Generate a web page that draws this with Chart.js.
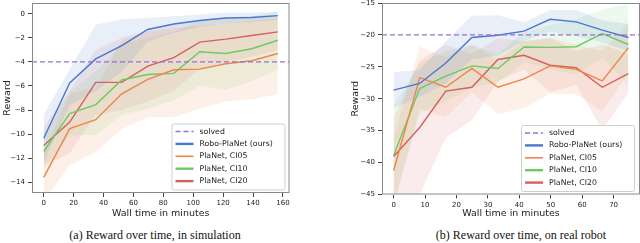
<!DOCTYPE html>
<html>
<head>
<meta charset="utf-8">
<script src="https://cdn.jsdelivr.net/npm/chart.js@4.4.0/dist/chart.umd.min.js"></script>
<style>
  body { margin: 0; background: #fff; width: 640px; height: 243px; overflow: hidden; position: relative; }
  .pane { position: absolute; top: 0; width: 320px; height: 222px; }
  .cap { position: absolute; top: 228px; font-family: "Liberation Serif", "Times New Roman", serif; font-size: 12px; color: #111; white-space: nowrap; transform: translateX(-50%); }
</style>
</head>
<body>
<div class="pane" style="left:0"><canvas id="simChart" width="320" height="222"></canvas></div>
<div class="pane" style="left:320px"><canvas id="robotChart" width="320" height="222"></canvas></div>
<div class="cap" style="left:155px">(a) Reward over time, in simulation</div>
<div class="cap" style="left:521px">(b) Reward over time, on real robot</div>
<script>
// series names
var seriesNames = ["Robo-PlaNet (ours)", "PlaNet, CI05", "PlaNet, CI10", "PlaNet, CI20"];

// (a) simulation
var simMinutes = [0, 17.4, 34.8, 52.2, 69.6, 87, 104.4, 121.8, 139.2, 156.6];
var simSolved = -4;
var simRobo   = [-10.35, -5.75, -3.75, -2.65, -1.3, -0.85, -0.55, -0.35, -0.3, -0.15];
var simRoboHi = [-8.4, -4.6, -0.9, -0.45, -0.35, -0.2, -0.05, 0.1, 0.1, 0.15];
var simRoboLo = [-12.3, -7.6, -6.4, -4.8, -2.3, -1.6, -1.1, -0.8, -0.7, -0.5];
var simCI05   = [-13.6, -9.55, -8.8, -6.65, -5.45, -4.65, -4.6, -4.15, -3.9, -3.3];
var simCI05Hi = [-11.6, -6.6, -6.2, -2.2, -1.5, -1.2, -1.0, -0.8, -0.6, -0.4];
var simCI05Lo = [-15.6, -12.6, -11.5, -9.6, -8.6, -8.6, -7.9, -7.3, -7.1, -6.7];
var simCI10   = [-11.45, -8.3, -7.55, -5.5, -5.05, -4.95, -3.15, -3.3, -2.9, -2.2];
var simCI10Hi = [-10.0, -6.5, -4.8, -2.5, -2.0, -1.5, -0.5, -0.3, -0.2, 0.2];
var simCI10Lo = [-12.9, -10.1, -10.1, -8.4, -7.9, -7.2, -6.0, -6.3, -5.6, -4.6];
var simCI20   = [-10.95, -9.0, -5.7, -5.7, -4.35, -3.65, -2.35, -2.1, -1.8, -1.5];
var simCI20Hi = [-9.4, -6.4, -3.0, -2.0, -1.4, -0.9, -0.5, -0.3, -0.2, -0.1];
var simCI20Lo = [-12.6, -11.6, -8.4, -8.0, -7.3, -6.4, -4.6, -4.0, -3.6, -3.0];

// (b) real robot
var robotMinutes = [0, 8.3, 16.6, 24.9, 33.2, 41.5, 49.8, 58.1, 66.4, 74.7];
var robotSolved = -20;
var robotRobo   = [-28.65, -27.6, -24.4, -20.4, -20.05, -19.4, -17.55, -17.95, -19.25, -20.4];
var robotRoboHi = [-25.8, -25.5, -21.0, -17.0, -16.9, -18.0, -16.1, -16.1, -17.7, -18.3];
var robotRoboLo = [-31.5, -29.7, -27.6, -23.8, -23.2, -21.0, -19.5, -20.2, -21.2, -22.5];
var robotCI05   = [-41.25, -26.7, -28.2, -25.25, -28.2, -26.9, -24.85, -25.4, -27.2, -22.0];
var robotCI05Hi = [-36, -21.8, -23.5, -21.5, -24.0, -21.0, -20.5, -21.5, -22.5, -18.0];
var robotCI05Lo = [-46.5, -31.6, -32.9, -29.0, -32.4, -31.5, -29.2, -29.3, -32.0, -26.0];
var robotCI10   = [-38.9, -28.4, -26.45, -24.85, -25.25, -21.9, -21.95, -21.85, -19.8, -21.5];
var robotCI10Hi = [-31, -24.5, -22.5, -21.5, -23.0, -19.5, -18.5, -17.5, -16.0, -15.2];
var robotCI10Lo = [-46.8, -32.3, -30.4, -28.2, -27.5, -24.3, -25.4, -26.2, -23.6, -27.8];
var robotCI20   = [-39.05, -34.5, -28.8, -28.2, -23.85, -23.2, -24.75, -25.15, -28.2, -26.05];
var robotCI20Hi = [-33, -24.0, -21.5, -23.0, -20.5, -21.0, -20.5, -22.5, -21.5, -23.0];
var robotCI20Lo = [-45, -45, -36.1, -33.4, -27.2, -25.4, -29.0, -27.8, -34.9, -29.1];

var colors = ["#4878d0", "#ee854a", "#6acc64", "#d65f5f"];
var solvedColor = "#9b6fd6";

Chart.defaults.font.family = "'DejaVu Sans', sans-serif";
Chart.defaults.color = "#222";
Chart.defaults.animation = false;

function pts(xs, ys) {
  return xs.map(function (x, i) { return { x: x, y: ys[i] }; });
}

function alpha(hex, a) {
  var n = parseInt(hex.slice(1), 16);
  return "rgba(" + (n >> 16) + "," + ((n >> 8) & 255) + "," + (n & 255) + "," + a + ")";
}

function buildDatasets(xs, xr, solved, means, his, los) {
  var ds = [];
  ds.push({ label: "solved", data: [{ x: xr[0], y: solved }, { x: xr[1], y: solved }],
    borderColor: solvedColor, borderWidth: 1.3, borderDash: [5, 3], pointRadius: 0, fill: false, legend: true });
  means.forEach(function (m, i) {
    ds.push({ label: seriesNames[i], data: pts(xs, m), borderColor: colors[i], borderWidth: 1.4,
      pointRadius: 0, fill: false, tension: 0, legend: true });
  });
  means.forEach(function (m, i) {
    ds.push({ label: "hi" + i, data: pts(xs, his[i]), borderWidth: 0, pointRadius: 0,
      backgroundColor: alpha(colors[i], 0.12), fill: "+1" });
    ds.push({ label: "lo" + i, data: pts(xs, los[i]), borderWidth: 0, pointRadius: 0, fill: false });
  });
  return ds;
}

var frameLegend = {
  id: "frameLegend",
  afterDatasetsDraw: function (chart) {
    var a = chart.chartArea, c = chart.ctx;
    c.save();
    c.strokeStyle = "#8a8a8a";
    c.lineWidth = 1;
    c.strokeRect(a.left + 0.5, a.top + 0.5, a.right - a.left - 1, a.bottom - a.top - 1);
    c.restore();
  },
  afterDraw: function (chart) {
    var a = chart.chartArea, c = chart.ctx;
    var w = 113, h = 66;
    var x0 = Math.min(a.right - 5, chart.width - 6) - w, y0 = a.bottom - 3.5 - h;
    c.save();
    c.fillStyle = "rgba(255,255,255,0.8)";
    c.strokeStyle = "#cfcfcf";
    c.lineWidth = 1;
    c.beginPath();
    c.roundRect(x0 + 0.5, y0 + 0.5, w, h, 2);
    c.fill();
    c.stroke();
    c.font = "7.8px 'DejaVu Sans'";
    c.textBaseline = "middle";
    var items = chart.data.datasets.filter(function (d) { return d.legend; });
    items.forEach(function (d, i) {
      var y = y0 + 8 + i * 12.4;
      c.beginPath();
      c.strokeStyle = d.borderColor;
      c.lineWidth = d.label === "solved" ? 1.3 : (d.label === "PlaNet, CI05" ? 1.6 : 2.4);
      c.setLineDash(d.borderDash || []);
      c.moveTo(x0 + 4, y);
      c.lineTo(x0 + 22, y);
      c.stroke();
      c.setLineDash([]);
      c.fillStyle = "#222";
      c.fillText(d.label, x0 + 28, y);
    });
    c.restore();
  }
};

function minusSign(v) { return String(v).replace("-", "\u2212"); }

// ticks only at whole steps inside the range
function stepTicks(step) {
  return function (s) {
    var out = [];
    for (var v = Math.ceil(s.min / step) * step; v <= s.max + 1e-9; v += step) out.push({ value: v });
    s.ticks = out;
  };
}

function makeChart(id, xs, xr, yr, xStep, yStep, solved, means, his, los, yAxisWidth, padLeft, padRight, xAxisHeight) {
  return new Chart(id, {
    type: "line",
    data: { datasets: buildDatasets(xs, xr, solved, means, his, los) },
    options: {
      responsive: false,
      layout: { padding: { left: padLeft, right: padRight, top: 3, bottom: 0 } },
      plugins: {
        legend: { display: false },
        tooltip: { enabled: false },
        filler: { drawTime: "beforeDatasetsDraw" }
      },
      scales: {
        x: {
          type: "linear", min: xr[0], max: xr[1],
          grid: { drawOnChartArea: false, drawTicks: true, tickLength: 4, color: "#444" },
          border: { display: false },
          ticks: { autoSkip: false, maxRotation: 0, font: { size: 7 }, padding: 2, callback: minusSign },
          title: { display: true, text: "Wall time in minutes", font: { size: 9.5 }, padding: { top: 0, bottom: 3 } },
          afterBuildTicks: stepTicks(xStep),
          afterFit: function (s) { s.height = xAxisHeight; s.paddingLeft = 0; s.paddingRight = 0; }
        },
        y: {
          type: "linear", min: yr[0], max: yr[1],
          grid: { drawOnChartArea: false, drawTicks: true, tickLength: 4, color: "#444" },
          border: { display: false },
          ticks: { autoSkip: false, font: { size: 7 }, padding: 3, callback: minusSign },
          title: { display: true, text: "Reward", font: { size: 9.5 }, padding: { top: 2, bottom: 0 } },
          afterBuildTicks: stepTicks(yStep),
          afterFit: function (s) { s.width = yAxisWidth; s.paddingTop = 0; s.paddingBottom = 0; }
        }
      }
    },
    plugins: [frameLegend]
  });
}

makeChart("simChart", simMinutes, [-7.83, 164.4], [-14.9, 0.9], 20, 2, simSolved,
  [simRobo, simCI05, simCI10, simCI20],
  [simRoboHi, simCI05Hi, simCI10Hi, simCI20Hi],
  [simRoboLo, simCI05Lo, simCI10Lo, simCI20Lo],
  32, 0, 30.5, 29);

makeChart("robotChart", robotMinutes, [-3.7, 78.4], [-45, -15], 10, 5, robotSolved,
  [robotRobo, robotCI05, robotCI10, robotCI20],
  [robotRoboHi, robotCI05Hi, robotCI10Hi, robotCI20Hi],
  [robotRoboLo, robotCI05Lo, robotCI10Lo, robotCI20Lo],
  34, 28, 0, 27.5);
</script>
</body>
</html>
